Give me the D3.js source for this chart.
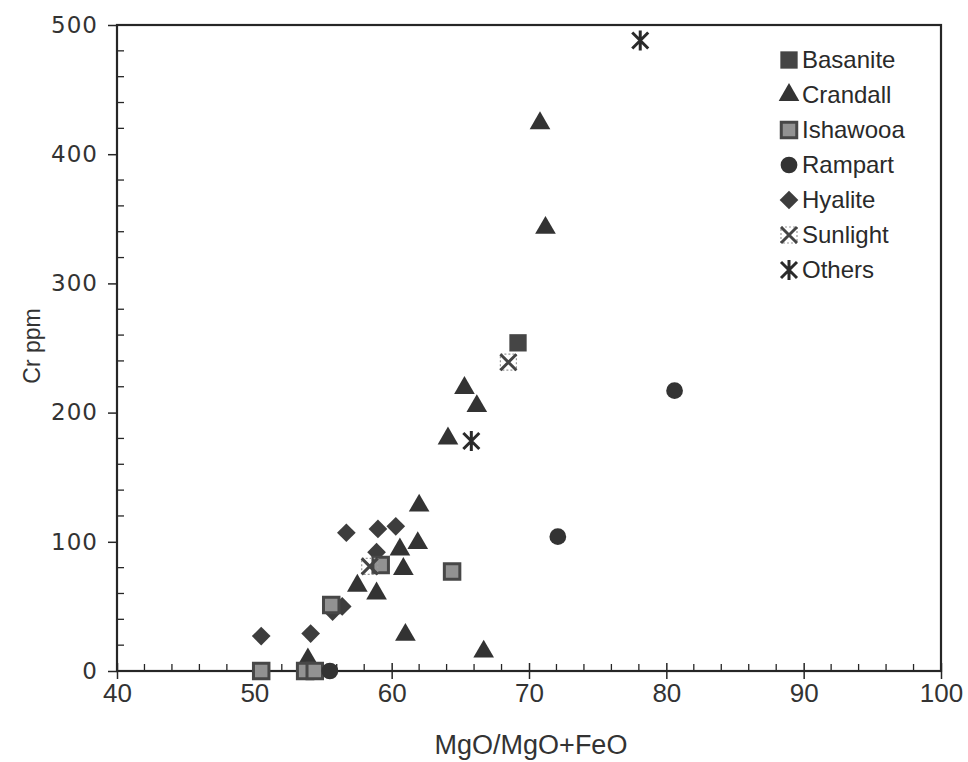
<!DOCTYPE html>
<html>
<head>
<meta charset="utf-8">
<script src="https://cdn.jsdelivr.net/npm/d3@7"></script>
<style>
  html, body { margin: 0; padding: 0; background: #fff; }
  svg { display: block; }
</style>
</head>
<body>
<svg id="chart" width="968" height="762"></svg>
<script>
// Cr (ppm) against magnesium number, grouped by suite
const basanite = [[69.2, 254]];
const crandall = [
  [70.8, 424], [71.2, 343], [65.3, 219], [66.2, 205], [64.1, 180],
  [62.0, 128], [61.9, 99], [60.6, 94], [60.85, 79], [57.5, 66],
  [58.9, 60], [61.0, 28], [66.7, 15], [53.9, 9]
];
const ishawooa = [
  [50.5, 0], [53.7, 0], [54.4, 0], [55.6, 51], [59.2, 82], [64.4, 77]
];
const rampart = [[55.5, 0], [72.1, 104], [80.6, 217]];
const hyalite = [
  [50.5, 27], [54.1, 29], [56.7, 107], [59.0, 110], [60.3, 112],
  [58.9, 92], [55.7, 46], [56.4, 50]
];
const sunlight = [[58.4, 81], [68.5, 239]];
const others = [[78.1, 488], [65.8, 178]];

const seriesNames = ["Basanite", "Crandall", "Ishawooa", "Rampart", "Hyalite", "Sunlight", "Others"];
const xTicks = [40, 50, 60, 70, 80, 90, 100];
const yTicks = [0, 100, 200, 300, 400, 500];
const xTitle = "MgO/MgO+FeO";
const yTitle = "Cr ppm";

const svg = d3.select("#chart");
const plotLeft = 117, plotRight = 941, plotTop = 25, plotBottom = 671;
const ink = "#262626";

const x = d3.scaleLinear().domain([40, 100]).range([plotLeft, plotRight]);
const y = d3.scaleLinear().domain([0, 500]).range([plotBottom, plotTop]);

// Frame
svg.append("rect")
  .attr("x", plotLeft).attr("y", plotTop)
  .attr("width", plotRight - plotLeft).attr("height", plotBottom - plotTop)
  .attr("fill", "none").attr("stroke", ink).attr("stroke-width", 2.2);

// Minor ticks (inside)
const gMinor = svg.append("g").attr("stroke", ink).attr("stroke-width", 1.3);
d3.range(42, 100, 2).forEach(v => {
  if (v % 10 === 0) return;
  gMinor.append("line").attr("x1", x(v)).attr("x2", x(v)).attr("y1", plotBottom).attr("y2", plotBottom - 7);
});
d3.range(20, 500, 20).forEach(v => {
  if (v % 100 === 0) return;
  gMinor.append("line").attr("x1", plotLeft).attr("x2", plotLeft + 7).attr("y1", y(v)).attr("y2", y(v));
});

// Major ticks and labels via d3 axes
const xAxis = d3.axisBottom(x).tickValues(xTicks).tickSize(0).tickPadding(13);
const gx = svg.append("g").attr("transform", `translate(0,${plotBottom})`).call(xAxis);
gx.select(".domain").remove();
gx.selectAll("text")
  .attr("font-family", "Liberation Sans, Arial, sans-serif")
  .attr("font-size", 26).attr("fill", "#333");
gx.selectAll(".tick").append("line")
  .attr("y1", -8).attr("y2", 8).attr("stroke", ink).attr("stroke-width", 1.5);

const yAxis = d3.axisLeft(y).tickValues(yTicks).tickSize(0).tickPadding(19);
const gy = svg.append("g").attr("transform", `translate(${plotLeft},0)`).call(yAxis);
gy.select(".domain").remove();
gy.selectAll("text")
  .attr("font-family", "DejaVu Sans, Verdana, sans-serif")
  .attr("font-size", 23).attr("fill", "#333")
  .attr("letter-spacing", 1);
gy.selectAll(".tick").append("line")
  .attr("x1", -9).attr("x2", 0).attr("stroke", ink).attr("stroke-width", 1.5);

// Axis titles
svg.append("text")
  .attr("x", (plotLeft + plotRight) / 2 + 2).attr("y", 754)
  .attr("text-anchor", "middle")
  .attr("font-family", "Liberation Sans, Arial, sans-serif")
  .attr("font-size", 27).attr("fill", "#333")
  .text(xTitle);
svg.append("text")
  .attr("transform", `translate(40,${(plotTop + plotBottom) / 2 - 2}) rotate(-90)`)
  .attr("text-anchor", "middle")
  .attr("font-family", "Liberation Sans, Arial, sans-serif")
  .attr("font-size", 23).attr("fill", "#333")
  .text(yTitle);

// Marker drawing helpers
const sym = (type, size) => d3.symbol().type(type).size(size)();
const markers = {
  Basanite: g => g.append("path").attr("d", sym(d3.symbolSquare, 300)).attr("fill", "#454545"),
  Crandall: g => g.append("path").attr("d", sym(d3.symbolTriangle, 185)).attr("fill", "#333"),
  Ishawooa: g => {
    g.append("path").attr("d", sym(d3.symbolSquare, 240))
      .attr("fill", "#929292").attr("stroke", "#474747").attr("stroke-width", 3);
  },
  Rampart: g => g.append("path").attr("d", sym(d3.symbolCircle, 220)).attr("fill", "#333"),
  Hyalite: g => g.append("path").attr("d", sym(d3.symbolSquare, 175))
    .attr("transform", "rotate(45)").attr("fill", "#3d3d3d"),
  Sunlight: g => {
    g.append("rect").attr("x", -8).attr("y", -8).attr("width", 16).attr("height", 16)
      .attr("fill", "none").attr("stroke", "#999").attr("stroke-width", 1.2)
      .attr("stroke-dasharray", "2,2");
    g.append("path").attr("d", "M-8,-8L8,8M8,-8L-8,8")
      .attr("stroke", "#444").attr("stroke-width", 3).attr("fill", "none");
  },
  Others: g => g.append("path").attr("d", "M-8,-8L8,8M8,-8L-8,8M0,-10L0,10")
    .attr("stroke", "#2a2a2a").attr("stroke-width", 3).attr("fill", "none")
};

function plotSeries(name, data) {
  svg.append("g").selectAll("g").data(data).join("g")
    .attr("transform", d => `translate(${x(d[0])},${y(d[1])})`)
    .each(function () { markers[name](d3.select(this)); });
}

plotSeries("Crandall", crandall);
plotSeries("Hyalite", hyalite);
plotSeries("Ishawooa", ishawooa);
plotSeries("Basanite", basanite);
plotSeries("Rampart", rampart);
plotSeries("Sunlight", sunlight);
plotSeries("Others", others);

// Legend
const legend = svg.append("g").attr("transform", "translate(789,60)");
seriesNames.forEach((name, i) => {
  const row = legend.append("g").attr("transform", `translate(0,${i * 35})`);
  markers[name](row.append("g"));
  row.append("text")
    .attr("x", 13).attr("y", 8)
    .attr("font-family", "Liberation Sans, Arial, sans-serif")
    .attr("font-size", 24).attr("fill", "#2a2a2a")
    .text(name);
});
</script>
</body>
</html>
